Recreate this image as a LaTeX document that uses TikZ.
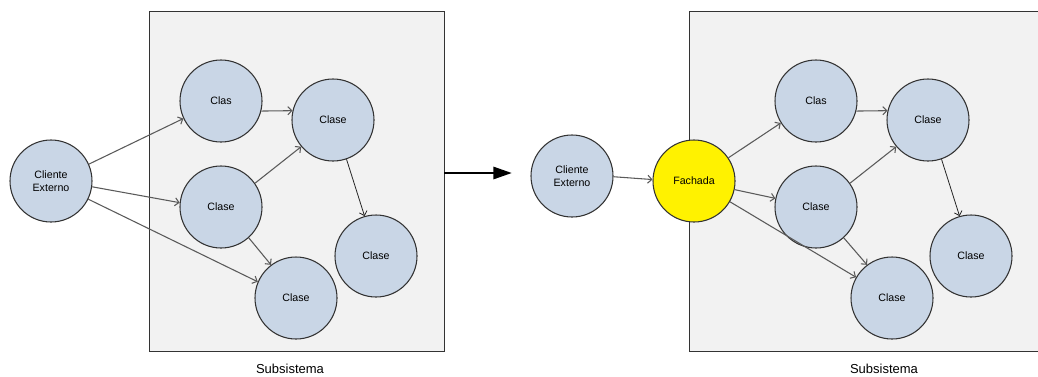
\documentclass[tikz,border=0pt]{standalone}
\usepackage{fontspec}
\setmainfont{Liberation Sans}
\usetikzlibrary{arrows.meta}
\definecolor{nodefill}{HTML}{C9D6E6}
\definecolor{boxfill}{HTML}{F2F2F2}
\definecolor{edgegray}{HTML}{5A5A5A}
\definecolor{borderdark}{HTML}{333333}
\begin{document}
\begin{tikzpicture}[x=0.75pt,y=-0.75pt,
  cls/.style={circle,draw=borderdark,fill=nodefill,line width=0.8pt,minimum size=61.5pt,inner sep=0pt,font=\fontsize{8}{9.75}\selectfont,align=center},
  facade/.style={cls,fill=yellow},
  subsys/.style={draw=borderdark,fill=boxfill,line width=0.8pt},
  lbl/.style={font=\fontsize{9.75}{11}\selectfont},
  edge/.style={draw=edgegray,line width=0.8pt,-{Straight Barb[length=3pt,width=6pt]}},
  darkedge/.style={edge,draw=black!85,line width=0.6pt},
  bigarrow/.style={draw=black,line width=2.2pt,-{Triangle[length=14pt,width=9pt]}}]
\useasboundingbox (0,0) rectangle (1038,376);
% left subsystem
\node[subsys,minimum width=221.25pt,minimum height=255pt,inner sep=0pt,anchor=north west] (boxL) at (149,11) {};
\node[lbl] (subL) at (290,369) {Subsistema};
\node[cls] (cliL) at (51,181) {Cliente\\Externo};
\node[cls] (clasL) at (221,101) {Clas};
\node[cls] (trL) at (333,120) {Clase};
\node[cls] (midL) at (221,207) {Clase};
\node[cls] (rtL) at (376,256) {Clase};
\node[cls] (btL) at (296,298) {Clase};
\draw[edge] (cliL.24.8) -- (clasL.205.3);
\draw[edge] (cliL.-8) -- (midL.174);
\draw[edge] (cliL.-26.6) -- (btL.157);
\draw[edge] (clasL.-14) -- (trL.167);
\draw[edge] (midL.35) -- (trL.220.8);
\draw[edge] (midL.-48) -- (btL.127);
\draw[darkedge] (trL.-71) -- (rtL.106);
% transition arrow
\coordinate (arrS) at (444,173);
\coordinate (arrE) at (512,173);
\draw[bigarrow] (arrS) -- (arrE);
% right subsystem (runs past the right edge of the picture)
\node[subsys,minimum width=266pt,minimum height=255pt,inner sep=0pt,anchor=north west] (boxR) at (689,11) {};
\node[lbl] (subR) at (884,369) {Subsistema};
\node[cls] (cliR) at (572,176) {Cliente\\Externo};
\node[facade] (fac) at (694,181) {Fachada};
\node[cls] (clasR) at (816,101) {Clas};
\node[cls] (trR) at (928,120) {Clase};
\node[cls] (midR) at (816,207) {Clase};
\node[cls] (rtR) at (971,256) {Clase};
\node[cls] (btR) at (892,298) {Clase};
\draw[edge] (cliR.-1.5) -- (fac.178.5);
\draw[edge] (fac.34.4) -- (clasR.212.9);
\draw[edge] (fac.-12.4) -- (midR.168.4);
\draw[edge] (fac.-30) -- (btR.150);
\draw[edge] (clasR.-14) -- (trR.167);
\draw[edge] (midR.35) -- (trR.220.8);
\draw[edge] (midR.-48) -- (btR.127);
\draw[darkedge] (trR.-71) -- (rtR.106);
\end{tikzpicture}
\end{document}
